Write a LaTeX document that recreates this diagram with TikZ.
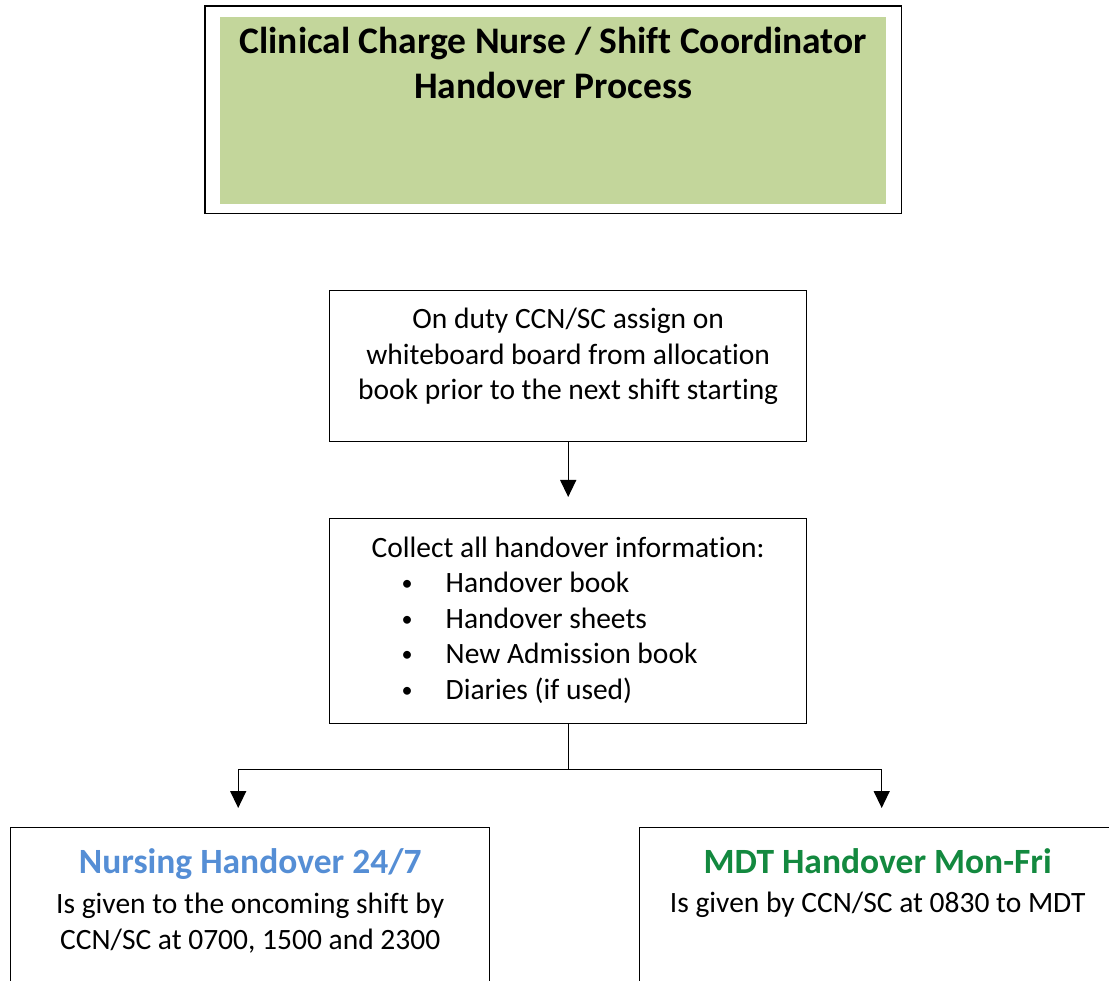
\documentclass[tikz,border=0pt]{standalone}
\usepackage{fontspec}
\setmainfont{Carlito}[Ligatures={NoCommon}]
\usetikzlibrary{arrows.meta,positioning}
\definecolor{titlegreen}{HTML}{C3D69B}
\definecolor{nursingblue}{HTML}{558ED5}
\definecolor{mdtgreen}{HTML}{13893F}
\newcommand{\bodyfont}{\fontsize{29.5}{35.5}\selectfont}
\newcommand{\headfont}{\bfseries\fontsize{35.5}{40}\selectfont}
\newcommand{\bulletline}[1]{\hspace*{72pt}\makebox[44pt][l]{\raisebox{2pt}{\scalebox{0.75}{\textbullet}}}#1}

\begin{document}
\begin{tikzpicture}[x=1pt,y=-1pt,
    stepbox/.style={draw,line width=1.4pt,inner sep=0pt,anchor=north west},
    flow/.style={line width=1.4pt,-{Triangle[length=17pt,width=16pt]}}]
    \useasboundingbox (0,0) rectangle (1109,981);
    \clip (0,0) rectangle (1109,981);
    \node[anchor=north west,fill=titlegreen,inner sep=0pt] (title) at (220,17)
      {\parbox[t][187pt][t]{666pt}{\centering\vspace*{9.5pt}\bfseries\fontsize{37.5}{45}\selectfont
       Clinical Charge Nurse / Shift Coordinator\\ Handover Process}};
    \draw[line width=1.4pt] ([shift={(-15,-11)}]title.north west) rectangle ([shift={(15,9)}]title.south east);
    \node[stepbox] (assign) at (329,290)
      {\parbox[t][151pt][t]{477pt}{\centering\vspace*{17.5pt}\bodyfont
       On duty CCN/SC assign on\\ whiteboard board from allocation\\ book prior to the next shift starting}};
    \node[stepbox] (collect) at (329,518)
      {\parbox[t][205pt][t]{477pt}{\raggedright\vspace*{18pt}\bodyfont
       \hspace*{42pt}Collect all handover information:\\
       \bulletline{Handover book}\\
       \bulletline{Handover sheets}\\
       \bulletline{New Admission book}\\
       \bulletline{Diaries (if used)}}};
    \node[stepbox] (nursing) at (10,827)
      {\parbox[t][200pt][t]{479pt}{\centering\vspace*{21pt}{\headfont\color{nursingblue}Nursing Handover 24/7\par}
       \vspace{3pt}\bodyfont\baselineskip=36.5pt Is given to the oncoming shift by\\ CCN/SC at 0700, 1500 and 2300}};
    \node[stepbox] (mdt) at (639,827)
      {\parbox[t][200pt][t]{476pt}{\centering\vspace*{21pt}{\headfont\color{mdtgreen}MDT Handover Mon-Fri\par}
       \vspace{3pt}\bodyfont Is given by CCN/SC at 0830 to MDT}};
    \coordinate (fork) at ([shift={(0,45)}]collect.south);
    \draw[flow,shorten >=21pt] (assign.south) -- (collect.north);
    \draw[line width=1.4pt] (collect.south) -- (fork);
    \draw[flow,shorten >=19pt] (fork) -| ([shift={(-12,0)}]nursing.north);
    \draw[flow,shorten >=19pt] (fork) -| ([shift={(4,0)}]mdt.north);
\end{tikzpicture}
\end{document}
